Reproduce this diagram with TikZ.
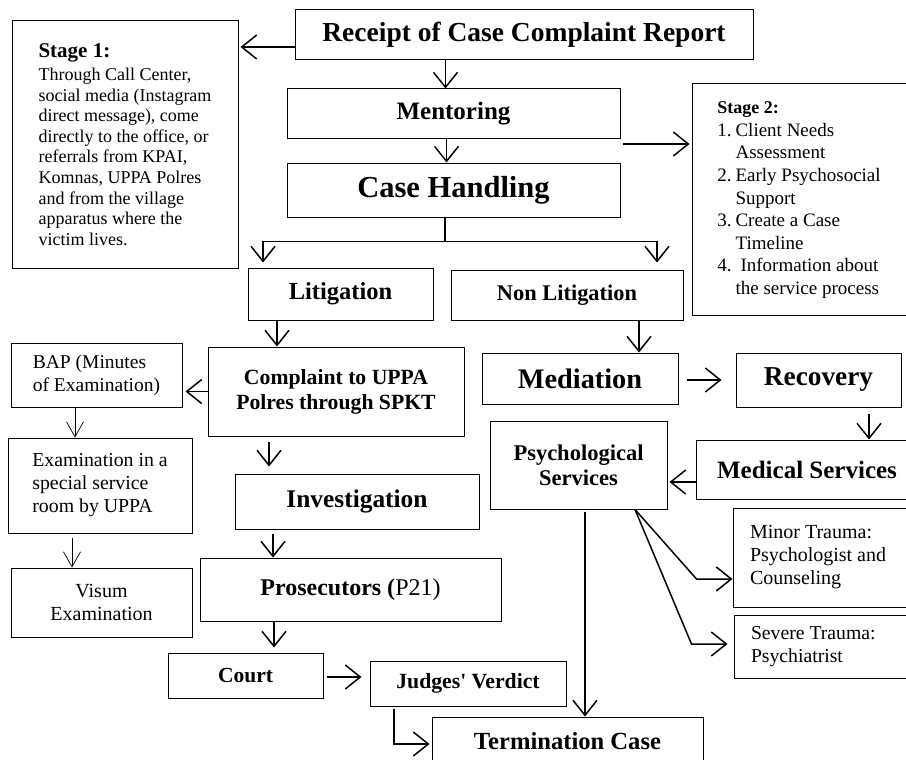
\documentclass[tikz,border=0pt]{standalone}
\usepackage{fontspec}
\setmainfont{Liberation Serif}
\usetikzlibrary{arrows.meta}
\newcommand{\setfs}[2]{\fontsize{#1}{#2}\selectfont}

\tikzset{
  box/.style={draw, line width=1pt, inner sep=0pt, align=center},
  arr/.style={line width=1.5pt, -{Straight Barb[length=15pt,width=24pt]}},
  thinarr/.style={line width=0.7pt, -{Straight Barb[length=15pt,width=17pt]}},
}

\begin{document}
\begin{tikzpicture}[x=1pt,y=-1pt]
        \useasboundingbox (0,0) rectangle (906,760);
        % top of the flow
        \node[box, minimum width=458pt, minimum height=50pt, font=\bfseries\setfs{27.5}{30}] (receipt) at (524,35) {Receipt of Case Complaint Report};
        \node[box, minimum width=226pt, minimum height=247pt, align=left, font=\setfs{18}{20.6}] (stageA) at (125,144.5)
        {{\bfseries\setfs{21}{23}Stage 1:}\\[2.4pt]Through Call Center,\\social media (Instagram\\direct message), come\\directly to the office, or\\referrals from KPAI,\\Komnas, UPPA Polres\\and from the village\\apparatus where the\\victim lives.};
        \node[box, minimum width=333pt, minimum height=49pt, font=\bfseries\setfs{25}{28}] (mentor) at (453.5,113.5) {Mentoring};
        \node[box, minimum width=333pt, minimum height=54pt, font=\bfseries\setfs{30.5}{33}] (handling) at (453.5,190) {Case Handling};
        \node[box, minimum width=214pt, minimum height=231pt, font=\setfs{19}{22.6}] (stageB) at (799,199.5)
        {\begin{tabular}{@{}l@{\hspace{4pt}}l@{}}
        \multicolumn{2}{@{}l}{\bfseries\setfs{18}{22.6}Stage 2:}\\
        1. & Client Needs\\ & Assessment\\
        2. & Early Psychosocial\\ & Support\\
        3. & Create a Case\\ & Timeline\\
        4. & \hspace{5pt}Information about\\ & the service process
        \end{tabular}};
        \node[box, minimum width=185pt, minimum height=52pt, font=\bfseries\setfs{24.5}{27}] (litig) at (340.5,294) {Litigation};
        \node[box, minimum width=232pt, minimum height=50pt, font=\bfseries\setfs{22.4}{25}] (nonlit) at (567,295) {Non Litigation};
        % litigation side
        \node[box, minimum width=256pt, minimum height=89pt, font=\bfseries\setfs{21.7}{25}] (complaint) at (336,391.5) {Complaint to UPPA\\Polres through SPKT};
        \node[box, minimum width=171pt, minimum height=64pt, align=left, font=\setfs{19.5}{23}] (bap) at (96.5,375) {BAP (Minutes\\of Examination)};
        \node[box, minimum width=184pt, minimum height=95pt, align=left, font=\setfs{19.8}{23}] (exam) at (100,485.5) {Examination in a\\special service\\room by UPPA};
        \node[box, minimum width=181pt, minimum height=69pt, font=\setfs{20}{23}] (visum) at (101.5,602.5) {Visum\\Examination};
        \node[box, minimum width=244pt, minimum height=55pt, font=\bfseries\setfs{25.4}{28}] (invest) at (357,501.5) {Investigation};
        \node[box, minimum width=301pt, minimum height=63pt, font=\setfs{24}{27}] (prosec) at (350.5,589.5) {\textbf{Prosecutors (}P21)};
        \node[box, minimum width=155pt, minimum height=45pt, font=\bfseries\setfs{21.5}{24}] (court) at (245.5,675.5) {Court};
        \node[box, minimum width=196pt, minimum height=45pt, font=\bfseries\setfs{21.7}{24}] (judges) at (468,683.5) {Judges\textquotesingle{} Verdict};
        \node[box, minimum width=271pt, minimum height=48pt, font=\bfseries\setfs{24.6}{27}] (term) at (567.5,741) {Termination Case};
        % non litigation side
        \node[box, minimum width=196pt, minimum height=51pt, font=\bfseries\setfs{28.3}{31}] (mediation) at (580,378.5) {Mediation};
        \node[box, minimum width=165pt, minimum height=54pt, font=\bfseries\setfs{27.3}{30}] (recovery) at (818.5,380) {Recovery};
        \node[box, minimum width=222pt, minimum height=59pt, font=\bfseries\setfs{25}{28}] (medical) at (807,469.5) {Medical Services};
        \node[box, minimum width=177pt, minimum height=88pt, font=\bfseries\setfs{22.5}{25}] (psych) at (578.5,465) {Psychological\\Services};
        \node[box, minimum width=180pt, minimum height=99pt, text width=146pt, align=flush left, font=\setfs{20}{23}] (minor) at (823,557.5) {Minor Trauma:\\Psychologist and\\Counseling};
        \node[box, minimum width=180pt, minimum height=63pt, text width=146pt, align=flush left, font=\setfs{19.7}{23}] (severe) at (824,646.5) {Severe Trauma:\\Psychiatrist};

        \coordinate (mentorOut) at (623,144);
        \coordinate (split) at ([xshift=-8.5pt,yshift=-24pt]handling.south);
        \coordinate (fork) at ([xshift=56.5pt]psych.south);

        \draw[arr, shorten >=2pt] ([yshift=-12pt]receipt.west) -- ([yshift=-12pt]receipt.west -| stageA.east);
        \draw[arr] ([xshift=-8pt]mentor.north |- receipt.south) -- ([xshift=-8pt]mentor.north);
        \draw[arr] ([xshift=-7pt]mentor.south) -- ([xshift=-7pt]handling.north);
        \draw[arr, shorten >=2pt] (mentorOut) -- (mentorOut -| stageB.west);
        \draw[line width=1.5pt] ([xshift=-8.5pt]handling.south) -- (split);
        \draw[arr] (split) -| ([xshift=-77.5pt,yshift=5pt]litig.north);
        \draw[arr] (split) -| ([xshift=90pt,yshift=7pt]nonlit.north);
        \draw[arr] ([xshift=-63.5pt]litig.south) -- ([xshift=-63.5pt]litig.south |- complaint.north);
        \draw[arr] ([xshift=72pt]nonlit.south) -- ([xshift=72pt]nonlit.south |- mediation.north);
        \draw[arr, shorten >=3pt] (complaint.west) -- (complaint.west -| bap.east);
        \draw[thinarr] ([xshift=-21.5pt]bap.south) -- ([xshift=-21.5pt]bap.south |- exam.north);
        \draw[thinarr, shorten <=4pt] ([xshift=-28pt]exam.south) -- ([xshift=-28pt]exam.south |- visum.north);
        \draw[arr, shorten <=5pt, shorten >=7pt] ([xshift=-67pt]complaint.south) -- ([xshift=-67pt]complaint.south |- invest.north);
        \draw[arr, shorten <=4pt] ([xshift=-84pt]invest.south) -- ([xshift=-84pt]invest.south |- prosec.north);
        \draw[arr, shorten >=5pt] ([xshift=-76.5pt]prosec.south) -- ([xshift=-76.5pt]prosec.south |- court.north);
        \draw[arr, shorten <=3pt, shorten >=8pt] ([yshift=-1.5pt]court.east) -- ([yshift=-1.5pt]court.east -| judges.west);
        \draw[arr, shorten <=2pt, shorten >=2pt] ([xshift=-74pt]judges.south) |- ([yshift=-3pt]term.west);
        \draw[arr, shorten <=8pt, shorten >=14pt] ([yshift=-1.5pt]mediation.east) -- ([yshift=-1.5pt]mediation.east -| recovery.west);
        \draw[arr, shorten <=6pt] ([xshift=50.5pt]recovery.south) -- ([xshift=50.5pt]recovery.south |- medical.north);
        \draw[arr, shorten >=2pt] ([yshift=-12.5pt]medical.west) -- ([yshift=-12.5pt]medical.west -| psych.east);
        \draw[arr, shorten <=2pt] ([xshift=6.5pt]psych.south) -- ([xshift=6.5pt]psych.south |- term.north);
        \draw[arr] (fork) -- ([xshift=-36pt,yshift=-21.5pt]minor.west) -- ([yshift=-21.5pt]minor.west);
        \draw[arr, shorten >=6pt] (fork) -- ([xshift=-42pt,yshift=2.5pt]severe.west) -- ([yshift=2.5pt]severe.west);
\end{tikzpicture}
\end{document}
